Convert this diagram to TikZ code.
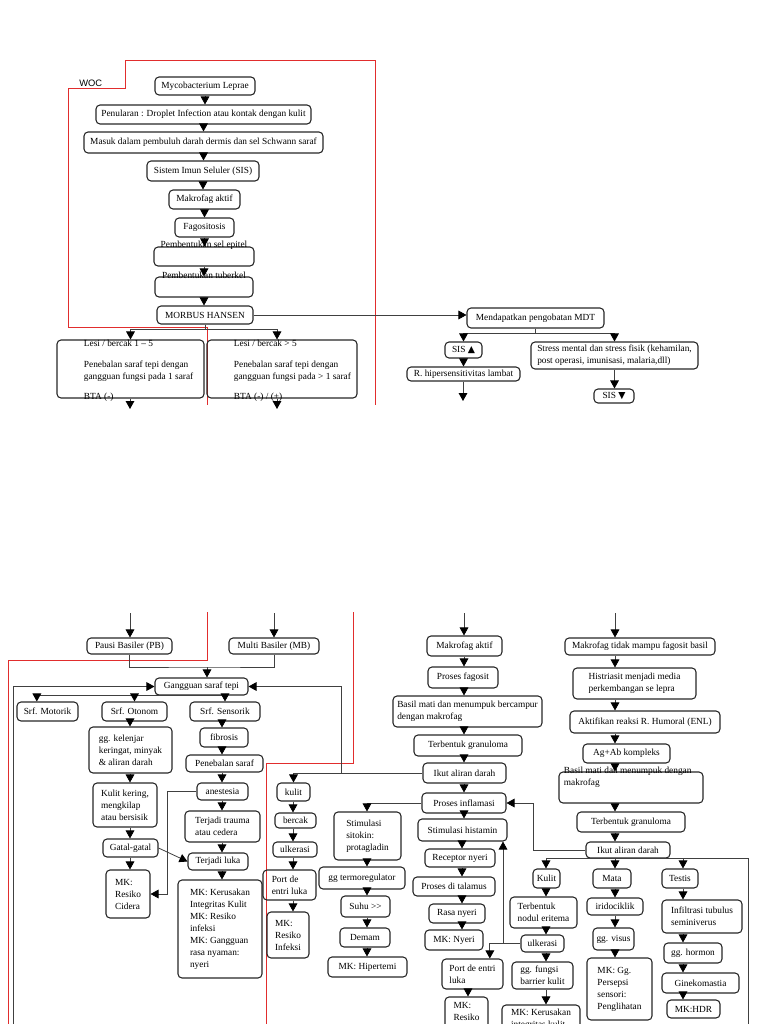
\documentclass[tikz,border=0pt]{standalone}
\usepackage{fontspec}
\setmainfont{Liberation Serif}
\newfontfamily\wocsans{Liberation Sans}
\newfontfamily\wocsym{DejaVu Sans}
\usetikzlibrary{arrows.meta}
\definecolor{wocred}{RGB}{225,45,45}
\tikzset{
  wbox/.style={draw=black!85, rounded corners=3pt, line width=0.8pt, inner sep=1.5pt,
    align=center, font=\fontsize{7}{9}\selectfont},
  txt/.style={inner sep=0.5pt, align=left, font=\fontsize{7}{9}\selectfont},
  ln/.style={draw=black!75, line width=0.6pt},
  arr/.style={ln, -{Triangle[width=6.5pt,length=6pt,color=black]}},
  redln/.style={draw=wocred, line width=0.6pt}
}
% box from its corners: [options]{name}{x1}{y1}{x2}{y2}{text}
\newcommand{\wocbox}[7][]{\node[wbox,minimum width={(#5-#3)*0.75pt},
  minimum height={(#6-#4)*0.75pt},#1] (#2) at ({(#3+#5)/2},{(#4+#6)/2}) {#7};}
\begin{document}
\begin{tikzpicture}[x=0.75pt,y=-0.75pt]
        \useasboundingbox (0,0) rectangle (768,1024);
        \clip (0,0) rectangle (768,1024);
        % Top part
        \draw[redln] (68,327) -- (68,88) -- (125,88) -- (125,60) -- (375,60) -- (375,405);
        \draw[redln] (68,327) -- (207,327) -- (207,405);
        \node[anchor=west, inner sep=0pt, font=\wocsans\fontsize{7}{8}\selectfont] (woc) at (79,83) {WOC};
        \wocbox{myco}{155}{77}{255}{95}{Mycobacterium Leprae}
        \wocbox{penular}{96}{105}{311}{124}{Penularan : Droplet Infection atau kontak dengan kulit}
        \wocbox{masuk}{84}{132}{323}{153}{Masuk dalam pembuluh darah dermis dan sel Schwann saraf}
        \wocbox{sis}{147}{161}{259}{181}{Sistem Imun Seluler (SIS)}
        \wocbox{makroA}{169}{190}{240}{209}{Makrofag aktif}
        \wocbox{fago}{175}{218}{234}{237}{Fagositosis}
        \wocbox{epitel}{154}{247}{254}{266}{}
        \wocbox{tuberkel}{155}{277}{253}{297}{}
        \wocbox{morbus}{157}{306}{253}{324}{MORBUS HANSEN}
        \wocbox{lesiA}{57}{340}{204}{398}{}
        \wocbox{lesiB}{207}{340}{357}{398}{}
        \node[txt] (epitelT) at (204,245) {Pembentukan sel epitel};
        \node[txt] (tuberT) at (204,275) {Pembentukan tuberkel};
        \node[txt,anchor=west] (lesiA1) at (83,343) {Lesi / bercak 1 – 5};
        \node[txt,anchor=west] (lesiA2) at (83,371) {Penebalan saraf tepi dengan\\gangguan fungsi pada 1 saraf};
        \node[txt,anchor=west] (lesiA3) at (83,397) {BTA (-)};
        \node[txt,anchor=west] (lesiB1) at (233,343) {Lesi / bercak > 5};
        \node[txt,anchor=west] (lesiB2) at (233,371) {Penebalan saraf tepi dengan\\gangguan fungsi pada > 1 saraf};
        \node[txt,anchor=west] (lesiB3) at (233,397) {BTA (-) / (+)};
        \wocbox{mdt}{467}{308}{604}{328}{Mendapatkan pengobatan MDT}
        \wocbox{sisUp}{445}{342}{482}{358}{SIS {\wocsym ▲}}
        \wocbox{hiper}{407}{367}{520}{381}{R. hipersensitivitas lambat}
        \wocbox[align=left]{stress}{531}{342}{698}{369}{Stress mental dan stress fisik (kehamilan,\\post operasi, imunisasi, malaria,dll)}
        \wocbox{sisDown}{594}{389}{634}{403}{SIS {\wocsym ▼}}
        \coordinate (outA) at (130,409);
        \coordinate (outB) at (277,409);
        \coordinate (outC) at (463,401);
        \foreach \a/\b in {myco/penular, penular/masuk, masuk/sis, sis/makroA, makroA/fago,
            fago/epitel, epitel/tuberkel, tuberkel/morbus, sisUp/hiper, stress/sisDown} {
                \draw[arr] (\a.south) -- (\a.south |- \b.north);
            }
        \draw[arr] (morbus.south) -- ++(0,5) -| (lesiA.north);
        \draw[arr] (morbus.south) -- ++(0,5) -| (outB |- lesiB.north);
        \draw[arr] (lesiA.south -| outA) -- (outA);
        \draw[arr] (lesiB.south -| outB) -- (outB);
        \draw[arr] (hiper.south -| outC) -- (outC);
        \draw[arr] (morbus.east) -- (morbus.east -| mdt.west);
        \draw[arr] (mdt.south) -- ++(0,5) -| (sisUp.north);
        \draw[arr] (mdt.south) -- ++(0,5) -| (stress.north);
        % Bottom part
        \draw[redln] (207,612) -- (207,660) -- (8,660) -- (8,1030);
        \draw[redln] (353,612) -- (353,763) -- (266,763) -- (266,1030);
        \wocbox{pb}{87}{638}{172}{654}{Pausi Basiler (PB)}
        \wocbox{mb}{229}{638}{319}{654}{Multi Basiler (MB)}
        \wocbox{gangguan}{155}{678}{248}{695}{Gangguan saraf tepi}
        \wocbox{motorik}{17}{702}{78}{721}{Srf. Motorik}
        \wocbox{otonom}{102}{702}{167}{721}{Srf. Otonom}
        \wocbox{sensorik}{190}{702}{260}{721}{Srf. Sensorik}
        \wocbox[align=left]{kelenjar}{89}{727}{172}{773}{gg. kelenjar\\keringat, minyak\\\& aliran darah}
        \wocbox[align=left]{kering}{93}{783}{157}{827}{Kulit kering,\\mengkilap\\atau bersisik}
        \wocbox{gatal}{103}{839}{158}{857}{Gatal-gatal}
        \wocbox[align=left]{cidera}{106}{870}{150}{918}{MK:\\Resiko\\Cidera}
        \wocbox{fibrosis}{200}{728}{248}{747}{fibrosis}
        \wocbox{penebalan}{186}{755}{263}{772}{Penebalan saraf}
        \wocbox{anestesia}{197}{783}{248}{800}{anestesia}
        \wocbox[align=left]{trauma}{185}{811}{260}{842}{Terjadi trauma\\atau cedera}
        \wocbox{luka}{188}{853}{248}{870}{Terjadi luka}
        \wocbox[align=left]{mkKulit}{178}{880}{262}{978}{MK: Kerusakan\\Integritas Kulit\\MK: Resiko\\infeksi\\MK: Gangguan\\rasa nyaman:\\nyeri}
        \wocbox{kulitA}{277}{783}{310}{801}{kulit}
        \wocbox{bercak}{275}{813}{316}{828}{bercak}
        \wocbox{ulkA}{273}{842}{317}{857}{ulkerasi}
        \wocbox[align=left]{portA}{263}{870}{316}{900}{Port de\\entri luka}
        \wocbox[align=left]{infA}{267}{912}{309}{958}{MK:\\Resiko\\Infeksi}
        \wocbox[align=left]{sitokin}{334}{812}{401}{860}{Stimulasi\\sitokin:\\protagladin}
        \wocbox{termo}{319}{867}{405}{889}{gg termoregulator}
        \wocbox{suhu}{341}{896}{390}{917}{Suhu >{}>}
        \wocbox{demam}{340}{928}{390}{947}{Demam}
        \wocbox{hipertemi}{328}{957}{407}{977}{MK: Hipertemi}
        \wocbox{makroB}{427}{636}{502}{656}{Makrofag aktif}
        \wocbox{fagosit}{428}{667}{498}{688}{Proses fagosit}
        \wocbox[align=left]{basilA}{393}{696}{542}{727}{Basil mati dan menumpuk bercampur\\dengan makrofag}
        \wocbox{granA}{414}{735}{522}{756}{Terbentuk granuloma}
        \wocbox{ikutA}{423}{763}{506}{783}{Ikut aliran darah}
        \wocbox{inflam}{422}{793}{506}{813}{Proses inflamasi}
        \wocbox{histamin}{418}{819}{507}{841}{Stimulasi histamin}
        \wocbox{receptor}{425}{849}{495}{867}{Receptor nyeri}
        \wocbox{talamus}{413}{877}{495}{896}{Proses di talamus}
        \wocbox{rasa}{429}{904}{485}{923}{Rasa nyeri}
        \wocbox{nyeri}{425}{930}{483}{950}{MK: Nyeri}
        \wocbox[align=left]{portB}{442}{959}{503}{989}{Port de entri\\luka}
        \wocbox[align=left]{infB}{445}{997}{488}{1037}{MK:\\Resiko\\Infeksi}
        \wocbox{makroC}{565}{638}{715}{655}{Makrofag tidak mampu fagosit basil}
        \wocbox[align=left]{histri}{573}{668}{696}{699}{Histriasit menjadi media\\perkembangan se lepra}
        \wocbox{aktif}{570}{711}{720}{733}{Aktifikan reaksi R. Humoral (ENL)}
        \wocbox{agab}{583}{744}{670}{763}{Ag+Ab kompleks}
        \wocbox{basilB}{559}{772}{703}{803}{}
        \node[txt,anchor=west] (basilBT) at (563,777) {Basil mati dan menumpuk dengan\\makrofag};
        \wocbox{granB}{577}{812}{685}{832}{Terbentuk granuloma}
        \wocbox{ikutB}{586}{842}{670}{858}{Ikut aliran darah}
        \wocbox{kulitB}{533}{869}{560}{888}{Kulit}
        \wocbox[align=left]{nodul}{510}{897}{577}{928}{Terbentuk\\nodul eritema}
        \wocbox{ulkB}{521}{935}{564}{952}{ulkerasi}
        \wocbox[align=left]{barrier}{512}{962}{573}{989}{gg. fungsi\\barrier kulit}
        \wocbox[align=left]{kerusakanB}{502}{1005}{580}{1033}{MK: Kerusakan\\integritas kulit}
        \wocbox{mata}{593}{869}{631}{888}{Mata}
        \wocbox{irido}{587}{898}{643}{915}{iridociklik}
        \wocbox{visus}{593}{928}{634}{950}{gg. visus}
        \wocbox[align=left]{persepsi}{587}{958}{652}{1020}{MK: Gg.\\Persepsi\\sensori:\\Penglihatan}
        \wocbox{testis}{662}{869}{698}{888}{Testis}
        \wocbox[align=left]{infil}{662}{900}{742}{933}{Infiltrasi tubulus\\seminiverus}
        \wocbox{hormon}{664}{943}{722}{963}{gg. hormon}
        \wocbox{gineko}{662}{973}{739}{993}{Ginekomastia}
        \wocbox{hdr}{667}{1000}{720}{1018}{MK:HDR}
        % columns of the arrow chains
        \foreach \c/\x in {colO/130, colS/222, colK/293, colT/367, colM/464, colH/462,
            colPB/468, colKr/546, colR/615, colTs/683} {
                \coordinate (\c) at (\x,0);
            }
        \foreach \a/\b/\c in {otonom/kelenjar/colO, kelenjar/kering/colO, kering/gatal/colO,
            gatal/cidera/colO, sensorik/fibrosis/colS, fibrosis/penebalan/colS,
            penebalan/anestesia/colS, anestesia/trauma/colS, trauma/luka/colS, luka/mkKulit/colS,
            kulitA/bercak/colK, bercak/ulkA/colK, ulkA/portA/colK, portA/infA/colK,
            sitokin/termo/colT, termo/suhu/colT, suhu/demam/colT, demam/hipertemi/colT,
            makroB/fagosit/colM, fagosit/basilA/colM, basilA/granA/colM, granA/ikutA/colM,
            ikutA/inflam/colM, inflam/histamin/colM, histamin/receptor/colH,
            receptor/talamus/colH, talamus/rasa/colH, rasa/nyeri/colH, portB/infB/colPB,
            makroC/histri/colR, histri/aktif/colR, aktif/agab/colR, agab/basilB/colR,
            basilB/granB/colR, granB/ikutB/colR, kulitB/nodul/colKr, nodul/ulkB/colKr,
            ulkB/barrier/colKr, barrier/kerusakanB/colKr, mata/irido/colR, irido/visus/colR,
            visus/persepsi/colR, testis/infil/colTs, infil/hormon/colTs, hormon/gineko/colTs,
            gineko/hdr/colTs} {
                \draw[arr] (\a.south -| \c) -- (\b.north -| \c);
            }
        % arrows coming in from the page above
        \foreach \n/\x in {pb/130, mb/274, makroB/464, makroC/615} {
                \coordinate (in\n) at (\x,613);
                \draw[arr] (in\n) -- (in\n |- \n.north);
            }
        \coordinate (jG) at (207,667);
        \draw[ln] (pb.south) |- (jG) -| (mb.south);
        \draw[arr] (jG) -- (jG |- gangguan.north);
        \draw[arr] (gangguan.south) -| ([xshift=-8pt]motorik.north);
        \draw[arr] (gangguan.south) -| (otonom.north);
        \draw[arr] (gangguan.south) -| (sensorik.north);
        \coordinate (inL) at (13,1030);
        \draw[arr] (inL) |- (gangguan.west);
        \draw[arr] (gatal.east) -- (luka.west);
        \draw[arr] (anestesia.west) -- ++(-29,0) |- (cidera.east);
        \coordinate (jK) at (341,773);
        \draw[arr] (ikutA.west) -| (kulitA.north);
        \draw[arr] (jK) |- (gangguan.east);
        \draw[arr] (inflam.west) -| (sitokin.north -| colT);
        \draw[arr] (ikutB.west) -- ++(-52,0) |- (inflam.east);
        \draw[arr] (ikutB.south) -| (kulitB.north -| colKr);
        \draw[arr] (ikutB.south) -| (mata.north -| colR);
        \draw[arr] (ikutB.south) -| (testis.north -| colTs);
        \coordinate (outR) at (748,1030);
        \draw[ln] (ikutB.south) -| (outR);
        \draw[arr] (ulkB.west) -| ([xshift=13pt]portB.north);
        \coordinate (jU) at (503,943);
        \draw[arr] (jU) -- (jU |- histamin.south);
\end{tikzpicture}
\end{document}
